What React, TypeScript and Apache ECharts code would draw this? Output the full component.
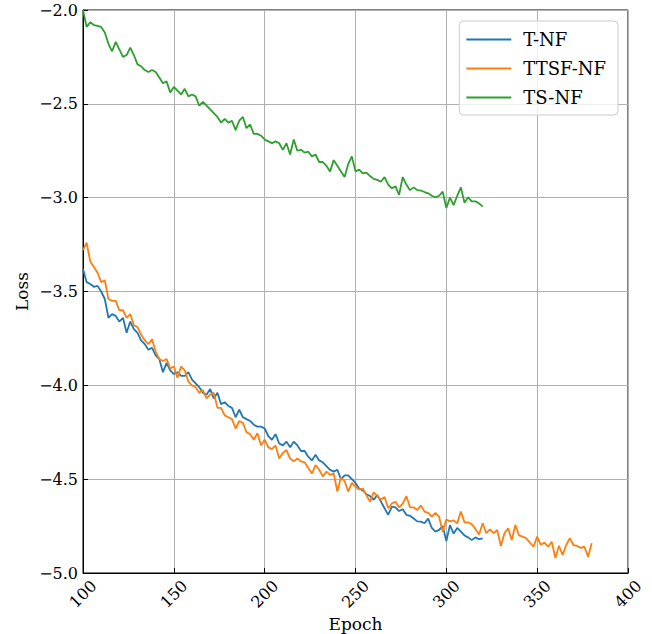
import React, { useEffect, useRef } from "react";
import * as echarts from "echarts";

const seriesNames = ["T-NF", "TTSF-NF", "TS-NF"];
const seriesColors = ["#1f77b4", "#ff7f0e", "#2ca02c"];
const xTicks = [100, 150, 200, 250, 300, 350, 400];

// Epochs sampled every 2 epochs starting at 100
const epochStart = 100;
const epochStep = 2;

const tnfLoss = [
  -3.38, -3.45, -3.46, -3.475, -3.47, -3.5, -3.54, -3.64, -3.62, -3.63,
  -3.66, -3.64, -3.72, -3.66, -3.7, -3.72, -3.76, -3.78, -3.81, -3.8,
  -3.84, -3.86, -3.93, -3.88, -3.92, -3.94, -3.93, -3.95, -3.95, -3.93,
  -3.97, -3.99, -4.01, -4.04, -4.05, -4.02, -4.07, -4.04, -4.1, -4.09,
  -4.11, -4.12, -4.17, -4.13, -4.17, -4.18, -4.19, -4.21, -4.22, -4.22,
  -4.23, -4.27, -4.29, -4.26, -4.31, -4.32, -4.3, -4.33, -4.3, -4.32,
  -4.35, -4.35, -4.38, -4.4, -4.37, -4.4, -4.41, -4.43, -4.45, -4.46,
  -4.45, -4.5, -4.48, -4.48, -4.5, -4.52, -4.55, -4.56, -4.58, -4.59,
  -4.61, -4.585, -4.62, -4.655, -4.69, -4.646, -4.65, -4.67, -4.66, -4.69,
  -4.695, -4.71, -4.725, -4.726, -4.735, -4.71, -4.76, -4.78, -4.77, -4.75,
  -4.83, -4.745, -4.79, -4.76, -4.78, -4.8, -4.81, -4.825, -4.81, -4.82,
  -4.815,
];

const ttsfLoss = [
  -3.28, -3.24, -3.34, -3.37, -3.4, -3.45, -3.44, -3.54, -3.55, -3.55,
  -3.6, -3.6, -3.64, -3.62, -3.68, -3.69, -3.73, -3.76, -3.78, -3.755,
  -3.82, -3.86, -3.87, -3.86, -3.91, -3.9, -3.96, -3.9, -3.92, -3.98,
  -4.0, -4.01, -4.04, -4.025, -4.07, -4.05, -4.04, -4.12, -4.12, -4.16,
  -4.17, -4.18, -4.23, -4.19, -4.2, -4.25, -4.26, -4.29, -4.255, -4.32,
  -4.29, -4.33, -4.34, -4.32, -4.39, -4.36, -4.345, -4.39, -4.405, -4.39,
  -4.405, -4.41, -4.44, -4.47, -4.425, -4.45, -4.485, -4.46, -4.477, -4.47,
  -4.566, -4.49, -4.51, -4.566, -4.52, -4.54, -4.555, -4.55, -4.585, -4.62,
  -4.57, -4.59, -4.61, -4.595, -4.655, -4.63, -4.62, -4.65, -4.63, -4.59,
  -4.65, -4.65, -4.665, -4.64, -4.673, -4.68, -4.7, -4.68, -4.7, -4.78,
  -4.715, -4.725, -4.72, -4.735, -4.673, -4.73, -4.73, -4.74, -4.765, -4.795,
  -4.735, -4.788, -4.767, -4.788, -4.771, -4.856, -4.788, -4.762, -4.824, -4.744,
  -4.8, -4.806, -4.815, -4.838, -4.86, -4.806, -4.85, -4.838, -4.86, -4.833,
  -4.92, -4.855, -4.904, -4.851, -4.815, -4.851, -4.856, -4.866, -4.86, -4.913,
  -4.842,
];

const tsLoss = [
  -2.0, -2.09, -2.065, -2.08, -2.085, -2.09, -2.12, -2.18, -2.22, -2.17,
  -2.21, -2.25, -2.24, -2.2, -2.24, -2.29, -2.3, -2.32, -2.33, -2.32,
  -2.33, -2.36, -2.39, -2.38, -2.44, -2.41, -2.43, -2.45, -2.42, -2.46,
  -2.45, -2.46, -2.51, -2.49, -2.51, -2.53, -2.55, -2.57, -2.6, -2.58,
  -2.6, -2.59, -2.64, -2.59, -2.57, -2.63, -2.61, -2.66, -2.66, -2.67,
  -2.69, -2.7, -2.71, -2.7, -2.71, -2.745, -2.71, -2.77, -2.69, -2.75,
  -2.745, -2.76, -2.755, -2.78, -2.77, -2.81, -2.81, -2.83, -2.86, -2.8,
  -2.83, -2.86, -2.89, -2.82, -2.78, -2.86, -2.85, -2.87, -2.866, -2.885,
  -2.9, -2.905, -2.915, -2.89, -2.93, -2.95, -2.94, -2.985, -2.89, -2.93,
  -2.96, -2.945, -2.96, -2.962, -2.97, -2.977, -2.99, -2.998, -2.99, -2.968,
  -3.055, -3.0, -3.04, -2.99, -2.945, -3.027, -2.998, -3.02, -3.02, -3.03,
  -3.048,
];

const allLoss = [tnfLoss, ttsfLoss, tsLoss];

const FONT = "DejaVu Serif";

function toPairs(values: number[]) {
  return values.map((v, i) => [epochStart + epochStep * i, v]);
}

export default function App() {
  const ref = useRef<HTMLDivElement>(null);
  useEffect(() => {
    if (!ref.current) return;
    const chart = echarts.init(ref.current, undefined, { renderer: "svg" });
    chart.setOption({
      animation: false,
      backgroundColor: "#ffffff",
      grid: {
        left: 83,
        right: 24,
        top: 10,
        bottom: 61,
        outerBoundsMode: "none",
        containLabel: false,
        show: true,
        borderColor: "#000000",
        borderWidth: 1,
        backgroundColor: "transparent",
      },
      legend: {
        orient: "vertical",
        top: 21,
        right: 34,
        icon: "rect",
        itemWidth: 45,
        itemHeight: 2,
        itemGap: 10,
        padding: [9, 12, 8, 7],
        borderColor: "#cccccc",
        borderWidth: 1,
        borderRadius: 4,
        backgroundColor: "rgba(255,255,255,0.8)",
        textStyle: {
          fontFamily: FONT,
          fontSize: 18,
          color: "#000000",
          lineHeight: 19,
          padding: [0, 0, 0, 7],
        },
        data: seriesNames,
      },
      xAxis: {
        type: "value",
        min: xTicks[0],
        max: xTicks[xTicks.length - 1],
        interval: 50,
        name: "Epoch",
        nameLocation: "middle",
        nameGap: 42,
        nameMoveOverlap: false,
        nameTextStyle: { fontFamily: FONT, fontSize: 17, lineHeight: 18, color: "#000000" },
        axisLine: { show: true, lineStyle: { color: "#000000", width: 1 } },
        axisTick: { show: true, inside: true, length: 5, lineStyle: { color: "#000000" } },
        splitLine: { show: true, lineStyle: { color: "#b0b0b0", width: 1 } },
        axisLabel: {
          rotate: 45,
          align: "center",
          verticalAlign: "middle",
          margin: 21,
          fontFamily: FONT,
          fontSize: 16,
          color: "#000000",
        },
      },
      yAxis: {
        type: "value",
        min: -5,
        max: -2,
        interval: 0.5,
        name: "Loss",
        nameLocation: "middle",
        nameGap: 53,
        nameMoveOverlap: false,
        nameRotate: 90,
        nameTextStyle: { fontFamily: FONT, fontSize: 17, color: "#000000" },
        axisLine: { show: true, lineStyle: { color: "#000000", width: 1 } },
        axisTick: { show: true, inside: true, length: 5, lineStyle: { color: "#000000" } },
        splitLine: { show: true, lineStyle: { color: "#b0b0b0", width: 1 } },
        axisLabel: {
          margin: 5,
          fontFamily: FONT,
          fontSize: 16,
          color: "#000000",
          formatter: (v: number) => (v < 0 ? "\u2212" : "") + Math.abs(v).toFixed(1),
        },
      },
      series: allLoss.map((vals, i) => ({
        name: seriesNames[i],
        type: "line",
        symbol: "none",
        showSymbol: false,
        color: seriesColors[i],
        lineStyle: { width: 1.8, color: seriesColors[i] },
        data: toPairs(vals),
        clip: true,
      })),
    });
    return () => chart.dispose();
  }, []);
  return (
    <div
      ref={ref}
      style={{ position: "fixed", left: 0, top: 0, width: 652, height: 634 }}
    />
  );
}
